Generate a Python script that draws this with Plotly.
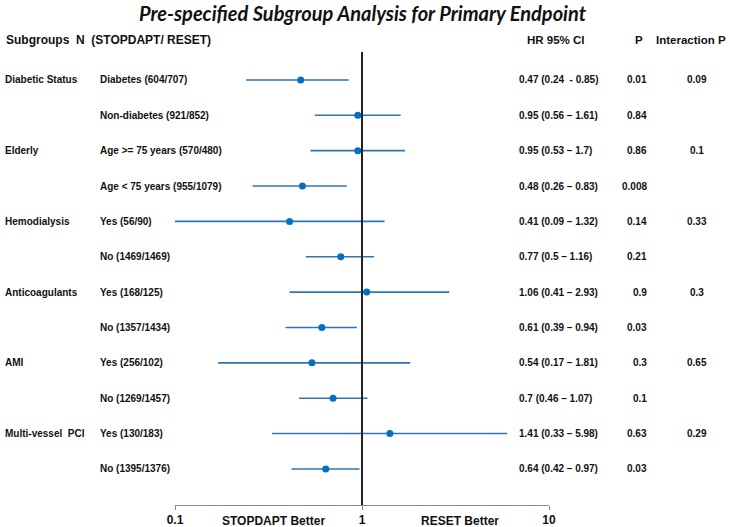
import plotly.graph_objects as go

# ---------------- data ----------------
groups = ["Diabetic Status", "", "Elderly", "", "Hemodialysis", "", "Anticoagulants", "",
          "AMI", "", "Multi-vessel  PCI", ""]
subgroups = ["Diabetes (604/707)", "Non-diabetes (921/852)", "Age &gt;= 75 years (570/480)",
             "Age &lt; 75 years (955/1079)", "Yes (56/90)", "No (1469/1469)", "Yes (168/125)",
             "No (1357/1434)", "Yes (256/102)", "No (1269/1457)", "Yes (130/183)", "No (1395/1376)"]
hr = [0.47, 0.95, 0.95, 0.48, 0.41, 0.77, 1.06, 0.61, 0.54, 0.70, 1.41, 0.64]
ci_low = [0.24, 0.56, 0.53, 0.26, 0.09, 0.50, 0.41, 0.39, 0.17, 0.46, 0.33, 0.42]
ci_high = [0.85, 1.61, 1.70, 0.83, 1.32, 1.16, 2.93, 0.94, 1.81, 1.07, 5.98, 0.97]
hr_text = ["0.47 (0.24  - 0.85)", "0.95 (0.56 – 1.61)", "0.95 (0.53 – 1.7)", "0.48 (0.26 – 0.83)",
           "0.41 (0.09 – 1.32)", "0.77 (0.5 – 1.16)", "1.06 (0.41 – 2.93)", "0.61 (0.39 – 0.94)",
           "0.54 (0.17 – 1.81)", "0.7 (0.46 – 1.07)", "1.41 (0.33 – 5.98)", "0.64 (0.42 – 0.97)"]
p_values = ["0.01", "0.84", "0.86", "0.008", "0.14", "0.21", "0.9", "0.03", "0.3", "0.1", "0.63", "0.03"]
interaction_p = ["0.09", "", "0.1", "", "0.33", "", "0.3", "", "0.65", "", "0.29", ""]
tick_values = [0.1, 1, 10]
tick_labels = ["0.1", "1", "10"]

# ---------------- layout geometry (pixels) ----------------
W, H = 730, 527
L, R, T, B = 175, 181, 52, 22
PW = W - L - R
PH = H - T - B


def px_x(p):
    return (p - L) / PW


def px_y(p):
    return (H - B - p) / PH


rows = list(range(len(hr)))
line_color = "#2E75B6"
marker_color = "#0070C0"
FAM = "Liberation Sans, Arial, sans-serif"
txt_font = dict(family=FAM, size=10, color="#111111", weight="bold")

fig = go.Figure()

# CI lines
lx, ly = [], []
for r, lo, hi in zip(rows, ci_low, ci_high):
    lx += [lo, hi, None]
    ly += [r, r, None]
fig.add_trace(go.Scatter(x=lx, y=ly, mode="lines", line=dict(color=line_color, width=1.6),
                         hoverinfo="skip", showlegend=False))
# point estimates
fig.add_trace(go.Scatter(x=hr, y=rows, mode="markers",
                         marker=dict(color=marker_color, size=7, line=dict(width=0)),
                         showlegend=False))

# reference line at HR = 1
fig.add_shape(type="line", xref="x", yref="paper", x0=1, x1=1, y0=0, y1=1,
              line=dict(color="#222222", width=2))

ann = []
for r in rows:
    if groups[r]:
        ann.append(dict(x=px_x(3), y=r, xref="paper", yref="y", text=groups[r], xanchor="left",
                        yanchor="middle", showarrow=False, font=txt_font))
    ann.append(dict(x=px_x(98), y=r, xref="paper", yref="y", text=subgroups[r], xanchor="left",
                    yanchor="middle", showarrow=False, font=txt_font))
    ann.append(dict(x=px_x(517), y=r, xref="paper", yref="y", text=hr_text[r], xanchor="left",
                    yanchor="middle", showarrow=False, font=txt_font))
    ann.append(dict(x=px_x(649), y=r, xref="paper", yref="y", text=p_values[r], xanchor="right",
                    yanchor="middle", showarrow=False, font=txt_font))
    if interaction_p[r]:
        ann.append(dict(x=px_x(697), y=r, xref="paper", yref="y", text=interaction_p[r],
                        xanchor="center", yanchor="middle", showarrow=False, font=txt_font))

hdr_font = dict(family=FAM, size=11.5, color="#111111", weight="bold")
ann.append(dict(x=px_x(4), y=px_y(40), xref="paper", yref="paper", text="Subgroups  N  (STOPDAPT/ RESET)",
                xanchor="left", yanchor="middle", showarrow=False,
                font=dict(family=FAM, size=12, color="#111111", weight="bold")))
ann.append(dict(x=px_x(556), y=px_y(40), xref="paper", yref="paper", text="HR 95% CI",
                xanchor="center", yanchor="middle", showarrow=False, font=hdr_font))
ann.append(dict(x=px_x(639), y=px_y(40), xref="paper", yref="paper", text="P",
                xanchor="center", yanchor="middle", showarrow=False, font=hdr_font))
ann.append(dict(x=px_x(728), y=px_y(40), xref="paper", yref="paper", text="Interaction P",
                xanchor="right", yanchor="middle", showarrow=False, font=hdr_font))

better_font = dict(family=FAM, size=12, color="#111111", weight="bold")
ann.append(dict(x=px_x(273), y=px_y(521), xref="paper", yref="paper", text="STOPDAPT Better",
                xanchor="center", yanchor="middle", showarrow=False, font=better_font))
ann.append(dict(x=px_x(460), y=px_y(521), xref="paper", yref="paper", text="RESET Better",
                xanchor="center", yanchor="middle", showarrow=False, font=better_font))

# title
ann.append(dict(x=px_x(363), y=px_y(13), xref="paper", yref="paper",
                text="<b><i>Pre-specified Subgroup Analysis for Primary Endpoint</i></b>",
                xanchor="center", yanchor="middle", showarrow=False,
                font=dict(family="Lato, Open Sans, Liberation Sans", size=20, color="#111111")))

fig.update_layout(
    width=W, height=H,
    margin=dict(l=L, r=R, t=T, b=B, pad=0, autoexpand=False),
    paper_bgcolor="white", plot_bgcolor="white",
    showlegend=False,
    annotations=ann,
    xaxis=dict(type="log", range=[-1, 1], tickvals=tick_values, ticktext=tick_labels,
               automargin=False,
               showgrid=False, zeroline=False, showline=True, linecolor="#8c8c8c", linewidth=1,
               ticks="outside", ticklen=4, tickcolor="#8c8c8c", tickwidth=1,
               tickfont=dict(family=FAM, size=12, color="#111111", weight="bold"),
               fixedrange=True),
    yaxis=dict(range=[12.02, -0.79], visible=False, automargin=False, showgrid=False,
               zeroline=False, fixedrange=True),
)

fig.write_html("out.html", config={"displayModeBar": False},
               post_script="document.body.style.margin='0px';document.body.style.overflow='hidden';")
